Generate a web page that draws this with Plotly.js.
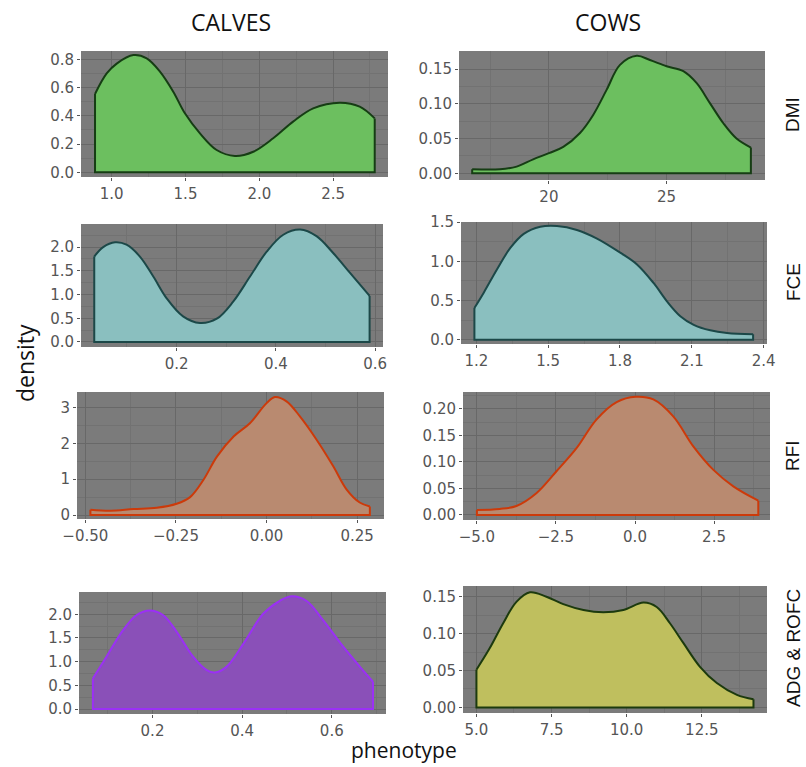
<!DOCTYPE html>
<html>
<head>
<meta charset="utf-8">
<script src="https://cdn.plot.ly/plotly-3.0.1.min.js"></script>
<style>html,body{margin:0;padding:0;background:#fff;}#chart{width:806px;height:767px;}</style>
</head>
<body>
<div id="chart"></div>
<script>
// ---- data ----
const columns = ["CALVES", "COWS"];
const rows = ["DMI", "FCE", "RFI", "ADG & ROFC"];

const calvesDMI_x = [0.887, 0.966, 1.034, 1.147, 1.237, 1.327, 1.417, 1.496, 1.598, 1.711, 1.835, 1.959, 2.094, 2.229, 2.365, 2.545, 2.68, 2.782];
const calvesDMI_y = [0.555, 0.70, 0.77, 0.83, 0.807, 0.713, 0.571, 0.418, 0.276, 0.158, 0.116, 0.146, 0.241, 0.359, 0.453, 0.493, 0.465, 0.382];

const cowsDMI_x = [16.74, 17.92, 18.63, 19.33, 20.0, 20.61, 21.32, 21.88, 22.45, 23.02, 23.73, 24.29, 25.0, 25.71, 26.27, 26.84, 27.41, 27.97, 28.58];
const cowsDMI_y = [0.0058, 0.0058, 0.0096, 0.020, 0.029, 0.038, 0.058, 0.084, 0.120, 0.156, 0.169, 0.163, 0.154, 0.147, 0.130, 0.101, 0.072, 0.050, 0.037];

const calvesFCE_x = [0.034, 0.052, 0.076, 0.099, 0.126, 0.153, 0.18, 0.213, 0.247, 0.281, 0.314, 0.348, 0.382, 0.415, 0.449, 0.482, 0.516, 0.55, 0.589];
const calvesFCE_y = [1.80, 2.0, 2.10, 2.05, 1.80, 1.38, 0.92, 0.54, 0.40, 0.49, 0.85, 1.38, 1.91, 2.26, 2.37, 2.23, 1.87, 1.45, 0.97];

const cowsFCE_x = [1.192, 1.231, 1.286, 1.342, 1.398, 1.467, 1.537, 1.62, 1.704, 1.801, 1.871, 1.941, 1.996, 2.052, 2.108, 2.177, 2.247, 2.356];
const cowsFCE_y = [0.405, 0.60, 0.895, 1.17, 1.35, 1.44, 1.45, 1.40, 1.29, 1.11, 0.96, 0.72, 0.49, 0.30, 0.19, 0.12, 0.085, 0.068];

const calvesRFI_x = [-0.486, -0.431, -0.367, -0.303, -0.248, -0.211, -0.174, -0.137, -0.091, -0.046, 0.0, 0.023, 0.055, 0.092, 0.138, 0.184, 0.221, 0.257, 0.285];
const calvesRFI_y = [0.149, 0.121, 0.167, 0.204, 0.316, 0.50, 0.985, 1.63, 2.19, 2.56, 3.12, 3.29, 3.17, 2.75, 2.10, 1.36, 0.71, 0.35, 0.24];

const cowsRFI_x = [-5.0, -4.28, -3.75, -3.12, -2.49, -1.85, -1.22, -0.58, 0.02, 0.58, 1.21, 1.85, 2.48, 3.11, 3.9];
const cowsRFI_y = [0.0095, 0.0114, 0.017, 0.041, 0.082, 0.126, 0.18, 0.213, 0.223, 0.218, 0.186, 0.129, 0.085, 0.054, 0.027];

const calvesADG_x = [0.067, 0.097, 0.134, 0.164, 0.194, 0.224, 0.254, 0.291, 0.321, 0.339, 0.365, 0.403, 0.447, 0.485, 0.511, 0.544, 0.581, 0.626, 0.663, 0.692];
const calvesADG_y = [0.646, 1.10, 1.66, 1.98, 2.08, 1.98, 1.63, 1.10, 0.82, 0.77, 0.89, 1.38, 2.01, 2.29, 2.38, 2.28, 1.87, 1.31, 0.89, 0.575];

const cowsROFC_x = [5.0, 5.44, 5.89, 6.33, 6.78, 7.33, 7.89, 8.56, 9.22, 9.89, 10.56, 11.0, 11.44, 11.89, 12.44, 13.0, 13.67, 14.22];
const cowsROFC_y = [0.051, 0.080, 0.114, 0.143, 0.156, 0.150, 0.140, 0.132, 0.129, 0.132, 0.142, 0.136, 0.114, 0.087, 0.055, 0.033, 0.017, 0.011];

// ---- styling / layout ----
const W = 806, H = 767;
const panels = [
  {x: calvesDMI_x, y: calvesDMI_y, fill: '#6cbf5f', line: '#163d14', px: [81, 388], py: [51, 177],
   xr: [0.792, 2.872], yr: [-0.033, 0.859], xd: 0.5, x0: 1.0, yd: 0.2, xf: '.1f', yf: '.1f'},
  {x: cowsDMI_x, y: cowsDMI_y, fill: '#6cbf5f', line: '#163d14', px: [459, 765], py: [51, 180],
   xr: [16.18, 29.18], yr: [-0.0097, 0.176], xd: 5, x0: 20, yd: 0.05, xf: 'd', yf: '.2f'},
  {x: calvesFCE_x, y: calvesFCE_y, fill: '#8abfbf', line: '#1c4848', px: [81, 383], py: [224, 347],
   xr: [0.0073, 0.616], yr: [-0.106, 2.487], xd: 0.2, x0: 0.2, yd: 0.5, xf: '.1f', yf: '.1f'},
  {x: cowsFCE_x, y: cowsFCE_y, fill: '#8abfbf', line: '#1c4848', px: [461, 767], py: [222, 344],
   xr: [1.136, 2.414], yr: [-0.055, 1.501], xd: 0.3, x0: 1.2, yd: 0.5, xf: '.1f', yf: '.1f'},
  {x: calvesRFI_x, y: calvesRFI_y, fill: '#b98a70', line: '#cc3a0a', px: [77, 384], py: [392, 519],
   xr: [-0.523, 0.324], yr: [-0.11, 3.43], xd: 0.25, x0: 0, yd: 1, xf: '.2f', yf: 'd'},
  {x: cowsRFI_x, y: cowsRFI_y, fill: '#b98a70', line: '#cc3a0a', px: [463, 770], py: [392, 520],
   xr: [-5.44, 4.27], yr: [-0.0095, 0.232], xd: 2.5, x0: 0, yd: 0.05, xf: '.1f', yf: '.2f'},
  {x: calvesADG_x, y: calvesADG_y, fill: '#8a50b8', line: '#9b30f5', px: [79, 386], py: [592, 714],
   xr: [0.036, 0.721], yr: [-0.105, 2.47], xd: 0.2, x0: 0.2, yd: 0.5, xf: '.1f', yf: '.1f'},
  {x: cowsROFC_x, y: cowsROFC_y, fill: '#bfbf5e', line: '#1c3a0e', px: [463, 767], py: [586, 713],
   xr: [4.553, 14.67], yr: [-0.0076, 0.1645], xd: 2.5, x0: 5, yd: 0.05, xf: '.1f', yf: '.2f'}
];

const tickFont = {family: 'DejaVu Sans, Liberation Sans, sans-serif', size: 15, color: '#555555'};
const traces = [];
const layout = {
  width: W, height: H,
  margin: {l: 0, r: 0, t: 0, b: 0},
  paper_bgcolor: '#ffffff',
  plot_bgcolor: '#7b7b7b',
  showlegend: false,
  annotations: []
};

panels.forEach((p, i) => {
  const n = i + 1;
  const xa = 'x' + (n === 1 ? '' : n), ya = 'y' + (n === 1 ? '' : n);
  const last = p.x.length - 1;
  // filled smooth density curve
  traces.push({
    type: 'scatter', mode: 'lines', x: p.x, y: p.y, xaxis: xa, yaxis: ya,
    fill: 'tozeroy', fillcolor: p.fill,
    line: {color: p.line, width: 2, shape: 'spline', smoothing: 1},
    hoverinfo: 'skip'
  });
  // closing edges of the polygon (vertical ends and baseline)
  traces.push({
    type: 'scatter', mode: 'lines',
    x: [p.x[last], p.x[last], p.x[0], p.x[0]],
    y: [p.y[last], 0, 0, p.y[0]],
    xaxis: xa, yaxis: ya,
    line: {color: p.line, width: 2},
    hoverinfo: 'skip'
  });
  const axBase = {
    showline: false, zeroline: false, ticks: 'outside', ticklen: 3, tickcolor: '#555555',
    tickfont: tickFont, showgrid: true, gridcolor: '#686868', gridwidth: 1,
    fixedrange: true
  };
  layout['xaxis' + (n === 1 ? '' : n)] = Object.assign({}, axBase, {
    domain: [p.px[0] / W, p.px[1] / W], anchor: ya, range: p.xr,
    tick0: p.x0, dtick: p.xd, tickformat: p.xf,
    minor: {tick0: p.x0, dtick: p.xd / 2, showgrid: true, gridcolor: '#727272', gridwidth: 1}
  });
  layout['yaxis' + (n === 1 ? '' : n)] = Object.assign({}, axBase, {
    domain: [1 - p.py[1] / H, 1 - p.py[0] / H], anchor: xa, range: p.yr,
    tick0: 0, dtick: p.yd, tickformat: p.yf,
    minor: {tick0: 0, dtick: p.yd / 2, showgrid: true, gridcolor: '#727272', gridwidth: 1}
  });
});

const titleFont = {family: 'Open Sans, sans-serif', size: 23, color: '#111111'};
const ann = (text, px, py, font, angle, ya) => ({
  text: text, x: px / W, y: 1 - py / H, xref: 'paper', yref: 'paper',
  xanchor: 'center', yanchor: ya || 'middle', showarrow: false, textangle: angle || 0, font: font
});
layout.annotations.push(
  ann(columns[0], 231, 22, titleFont),
  ann(columns[1], 608, 22, titleFont),
  ann('density', 25, 363, titleFont, -90),
  ann('phenotype', 404, 766, Object.assign({}, titleFont, {size: 21}), 0, 'bottom')
);
const rowY = [115, 282, 456, 648];
const stripFont = {family: 'Liberation Sans, Arial, sans-serif', size: 19, color: '#111111'};
rows.forEach((r, i) => {
  layout.annotations.push(ann(r, 793, rowY[i], stripFont, -90));
});

Plotly.newPlot('chart', traces, layout, {staticPlot: true, displayModeBar: false});
</script>
</body>
</html>
